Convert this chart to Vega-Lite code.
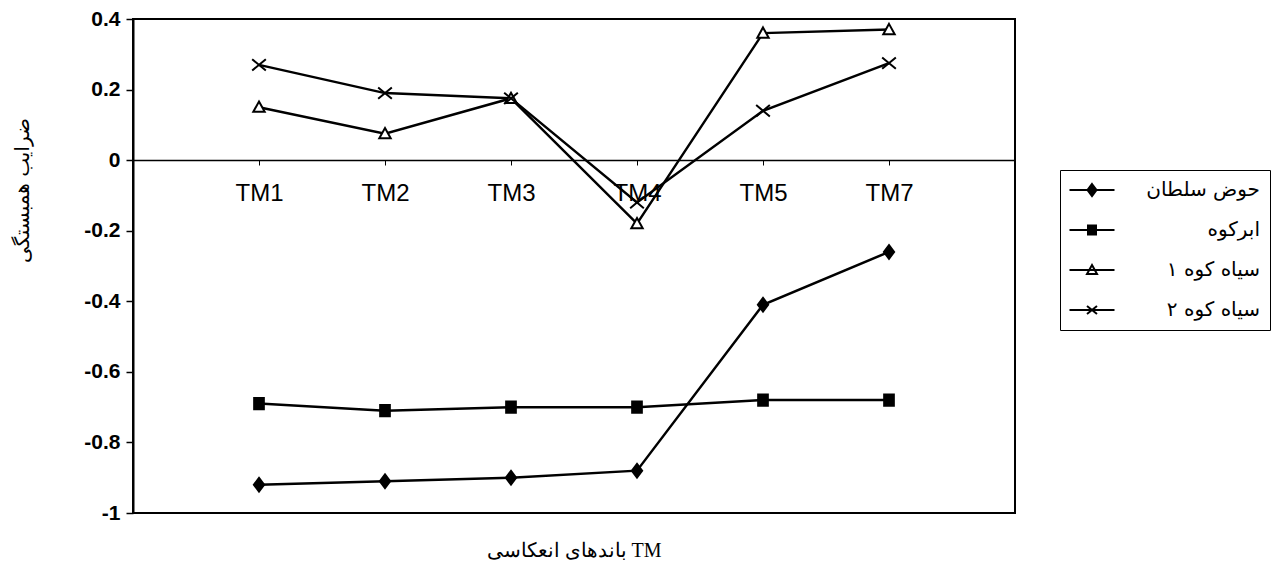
{
  "$schema": "https://vega.github.io/schema/vega-lite/v6.json",
  "width": 882,
  "height": 494,
  "autosize": {"type": "none"},
  "padding": {"left": 133, "top": 19, "right": 258, "bottom": 71},
  "background": "white",
  "config": {
    "view": {"stroke": "black", "strokeWidth": 2},
    "font": "Liberation Sans"
  },
  "title": {
    "text": "\u2066باندهای انعکاسی TM\u2069",
    "orient": "bottom",
    "anchor": "middle",
    "offset": 18,
    "font": "Liberation Serif",
    "fontSize": 20,
    "fontWeight": "normal",
    "color": "black"
  },
  "data": {
    "values": [
      {"band": "TM1", "series": "حوض سلطان", "r": -0.92},
      {"band": "TM2", "series": "حوض سلطان", "r": -0.91},
      {"band": "TM3", "series": "حوض سلطان", "r": -0.90},
      {"band": "TM4", "series": "حوض سلطان", "r": -0.88},
      {"band": "TM5", "series": "حوض سلطان", "r": -0.41},
      {"band": "TM7", "series": "حوض سلطان", "r": -0.26},
      {"band": "TM1", "series": "ابرکوه", "r": -0.69},
      {"band": "TM2", "series": "ابرکوه", "r": -0.71},
      {"band": "TM3", "series": "ابرکوه", "r": -0.70},
      {"band": "TM4", "series": "ابرکوه", "r": -0.70},
      {"band": "TM5", "series": "ابرکوه", "r": -0.68},
      {"band": "TM7", "series": "ابرکوه", "r": -0.68},
      {"band": "TM1", "series": "سیاه کوه ۱", "r": 0.15},
      {"band": "TM2", "series": "سیاه کوه ۱", "r": 0.075},
      {"band": "TM3", "series": "سیاه کوه ۱", "r": 0.175},
      {"band": "TM4", "series": "سیاه کوه ۱", "r": -0.18},
      {"band": "TM5", "series": "سیاه کوه ۱", "r": 0.36},
      {"band": "TM7", "series": "سیاه کوه ۱", "r": 0.37},
      {"band": "TM1", "series": "سیاه کوه ۲", "r": 0.27},
      {"band": "TM2", "series": "سیاه کوه ۲", "r": 0.19},
      {"band": "TM3", "series": "سیاه کوه ۲", "r": 0.175},
      {"band": "TM4", "series": "سیاه کوه ۲", "r": -0.12},
      {"band": "TM5", "series": "سیاه کوه ۲", "r": 0.14},
      {"band": "TM7", "series": "سیاه کوه ۲", "r": 0.275}
    ]
  },
  "encoding": {
    "x": {
      "field": "band",
      "type": "ordinal",
      "sort": ["TM1", "TM2", "TM3", "TM4", "TM5", "TM7"],
      "scale": {"type": "point", "padding": 1},
      "axis": {
        "title": null,
        "offset": -353,
        "labelAngle": 0,
        "labelFontSize": 24,
        "labelColor": "black",
        "labelPadding": 16,
        "tickSize": 5,
        "tickColor": "black",
        "domainColor": "black",
        "domainWidth": 1.5
      }
    },
    "y": {
      "field": "r",
      "type": "quantitative",
      "scale": {"domain": [-1, 0.4], "nice": false, "zero": false},
      "axis": {
        "values": [-1, -0.8, -0.6, -0.4, -0.2, 0, 0.2, 0.4],
        "labelExpr": "'' + datum.value",
        "grid": false,
        "labelFontSize": 21,
        "labelFontWeight": "bold",
        "labelColor": "black",
        "labelPadding": 6,
        "tickSize": 7,
        "tickWidth": 1.5,
        "tickColor": "black",
        "domainColor": "black",
        "domainWidth": 2,
        "title": "ضرایب همبستگی",
        "titleFont": "DejaVu Sans",
        "titleFontSize": 20,
        "titleFontWeight": "normal",
        "titleColor": "black",
        "titleAngle": -90,
        "titleX": -111,
        "titleY": 171,
        "titleAlign": "center",
        "titleBaseline": "middle"
      }
    }
  },
  "layer": [
    {
      "mark": {"type": "line", "color": "black", "strokeWidth": 2.5},
      "encoding": {"detail": {"field": "series"}}
    },
    {
      "mark": {
        "type": "point",
        "stroke": "black",
        "strokeWidth": 2,
        "opacity": 1,
        "fillOpacity": 1,
        "size": 130,
        "shape": {"expr": "datum.series ? (datum.series === 'حوض سلطان' ? 'M0,-1.2L0.9,0L0,1.2L-0.9,0Z' : datum.series === 'ابرکوه' ? 'M-0.85,-1H0.85V1H-0.85Z' : datum.series === 'سیاه کوه ۱' ? 'M0,-1L1,0.8H-1Z' : 'M-1.2,-1L1.2,1M-1.2,1L1.2,-1') : (datum.value === 'حوض سلطان' ? 'M-4.5,0H4.5M0,-1.2L0.9,0L0,1.2L-0.9,0Z' : datum.value === 'ابرکوه' ? 'M-4.5,0H4.5M-0.8,-0.9H0.8V0.9H-0.8Z' : datum.value === 'سیاه کوه ۱' ? 'M-4.5,0H4.5M0,-1L1,0.8H-1Z' : 'M-4.5,0H4.5M-1,-0.8L1,0.8M-1,0.8L1,-0.8')"}
      },
      "encoding": {
        "fill": {
          "field": "series",
          "type": "nominal",
          "scale": {
            "domain": ["حوض سلطان", "ابرکوه", "سیاه کوه ۱", "سیاه کوه ۲"],
            "range": ["black", "black", "white", "transparent"]
          },
          "legend": {
            "title": null,
            "orient": "none",
            "legendX": 927,
            "legendY": 151,
            "strokeColor": "black",
            "padding": 10,
            "symbolSize": 100,
            "symbolOffset": 12,
            "symbolStrokeColor": "black",
            "symbolStrokeWidth": 2,
            "labelFont": "DejaVu Sans",
            "labelFontSize": 20,
            "labelColor": "black",
            "labelAlign": "right",
            "labelOffset": 158,
            "labelLimit": 300,
            "rowPadding": 20
          }
        }
      }
    }
  ]
}
